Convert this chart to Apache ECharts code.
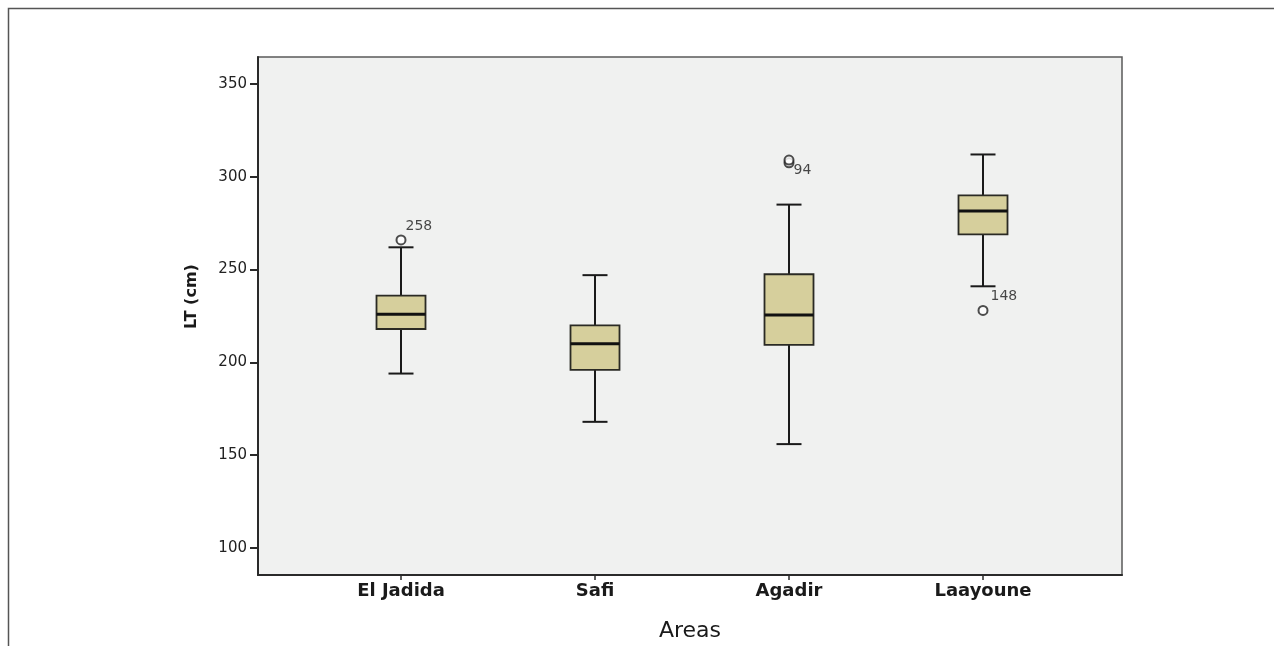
<!DOCTYPE html>
<html>
<head>
<meta charset="utf-8">
<script src="https://cdn.jsdelivr.net/npm/echarts@6/dist/echarts.min.js"></script>
<style>
  html, body { margin: 0; padding: 0; background: #ffffff; }
  #chart { width: 1274px; height: 646px; }
</style>
</head>
<body>
<div id="chart"></div>
<script>
// Total length (LT, cm) by area
const areas = ['El Jadida', 'Safi', 'Agadir', 'Laayoune'];
// [lower whisker, Q1, median, Q3, upper whisker]
const lowWhisker = [194, 168, 156, 241];
const q1 = [218, 196, 209.5, 269];
const median = [226, 210, 225.5, 281.5];
const q3 = [236, 220, 247.5, 290];
const highWhisker = [262, 247, 285, 312];
// outliers: [area index, value, case id]
const outlierArea = [0, 2, 2, 3];
const outlierValue = [266, 307.5, 309, 228];
const outlierCase = ['258', '94', '', '148'];
const yTicks = [100, 150, 200, 250, 300, 350];

const boxData = areas.map((a, i) => [i, lowWhisker[i], q1[i], median[i], q3[i], highWhisker[i]]);
const outlierData = outlierValue.map((v, k) => ({ value: [outlierArea[k], v], caseId: outlierCase[k] }));

const boxFill = '#d6cf9c';
const ink = '#1a1a1a';
const boxWidth = 49;
const capWidth = 25;

const yMin = 85.5, yMax = 364.5;
const plotTop = 57, plotBottom = 71;
const sans = 'DejaVu Sans, Verdana, sans-serif';

const chart = echarts.init(document.getElementById('chart'), null, { renderer: 'canvas' });

chart.setOption({
  backgroundColor: '#ffffff',
  animation: false,
  textStyle: { fontFamily: sans },
  graphic: [{
    type: 'rect',
    left: 6, top: 6,
    shape: { x: 0, y: 0, width: 1400, height: 800 },
    style: { fill: 'none', stroke: '#555555', lineWidth: 1.5 },
    silent: true
  }],
  grid: [
    {
      // plotting frame
      left: 258, right: 152, top: plotTop, bottom: plotBottom,
      outerBoundsMode: 'none',
      show: true, backgroundColor: '#f0f1f0', borderColor: '#5a5a5a', borderWidth: 1.5
    },
    {
      // area bands
      left: 304, right: 194, top: plotTop, bottom: plotBottom,
      outerBoundsMode: 'none'
    }
  ],
  xAxis: [
    {
      type: 'value', gridIndex: 0, min: 0, max: 1,
      axisLine: { show: true, lineStyle: { color: '#2a2a2a', width: 2 } },
      axisTick: { show: false }, axisLabel: { show: false }, splitLine: { show: false },
      name: 'Areas', nameLocation: 'middle', nameGap: 45,
      nameTextStyle: { fontSize: 22, color: '#1a1a1a', fontFamily: sans }
    },
    {
      type: 'category', gridIndex: 1, data: areas,
      axisLine: { show: false },
      axisTick: { show: true, alignWithLabel: true, length: 5, lineStyle: { color: '#2a2a2a', width: 1.5 } },
      axisLabel: { margin: 7, fontSize: 18, fontWeight: 'bold', color: '#1a1a1a', fontFamily: sans },
      splitLine: { show: false }
    }
  ],
  yAxis: [
    {
      type: 'value', gridIndex: 0, min: yMin, max: yMax,
      axisLine: { show: true, lineStyle: { color: '#2a2a2a', width: 2 } },
      axisTick: { show: true, length: 8, customValues: yTicks, lineStyle: { color: '#2a2a2a', width: 2 } },
      axisLabel: { customValues: yTicks, margin: 11, fontSize: 15, color: '#222222', fontFamily: sans },
      splitLine: { show: false },
      name: 'LT (cm)', nameLocation: 'middle', nameGap: 58, nameRotate: 90,
      nameTextStyle: { fontSize: 16, fontWeight: 'bold', color: '#1a1a1a', fontFamily: sans, padding: [0, 0, 0, 39] }
    },
    {
      type: 'value', gridIndex: 1, min: yMin, max: yMax, show: false
    }
  ],
  series: [
    {
      type: 'custom',
      xAxisIndex: 1, yAxisIndex: 1,
      data: boxData,
      encode: { x: 0, y: [1, 2, 3, 4, 5] },
      renderItem: function (params, api) {
        const i = api.value(0);
        const pLow = api.coord([i, api.value(1)]);
        const pQ1 = api.coord([i, api.value(2)]);
        const pMed = api.coord([i, api.value(3)]);
        const pQ3 = api.coord([i, api.value(4)]);
        const pHigh = api.coord([i, api.value(5)]);
        const cx = pQ1[0];
        const bw = boxWidth, cw = capWidth;
        const lineStyle = { stroke: ink, lineWidth: 2 };
        return {
          type: 'group',
          children: [
            { type: 'line', shape: { x1: cx, y1: pHigh[1], x2: cx, y2: pQ3[1] }, style: lineStyle },
            { type: 'line', shape: { x1: cx, y1: pLow[1], x2: cx, y2: pQ1[1] }, style: lineStyle },
            { type: 'line', shape: { x1: cx - cw / 2, y1: pHigh[1], x2: cx + cw / 2, y2: pHigh[1] }, style: lineStyle },
            { type: 'line', shape: { x1: cx - cw / 2, y1: pLow[1], x2: cx + cw / 2, y2: pLow[1] }, style: lineStyle },
            {
              type: 'rect',
              shape: { x: cx - bw / 2, y: pQ3[1], width: bw, height: pQ1[1] - pQ3[1] },
              style: { fill: boxFill, stroke: '#2a2a24', lineWidth: 1.8 }
            },
            { type: 'line', shape: { x1: cx - bw / 2, y1: pMed[1], x2: cx + bw / 2, y2: pMed[1] }, style: { stroke: '#111111', lineWidth: 3 } }
          ]
        };
      },
      z: 2
    },
    {
      type: 'scatter',
      xAxisIndex: 1, yAxisIndex: 1,
      data: outlierData,
      symbol: 'emptyCircle', symbolSize: 9,
      itemStyle: { color: '#222222', borderColor: '#222222', borderWidth: 1.5 },
      label: {
        show: true,
        formatter: function (p) { return p.data.caseId; },
        position: 'right',
        fontSize: 14, color: '#1a1a1a', fontFamily: sans
      },
      labelLayout: function (p) {
        const id = outlierData[p.dataIndex].caseId;
        if (id === '94') return { dx: -6, dy: 8 };
        if (id === '') return {};
        if (id === '148') return { dx: -3, dy: -14 };
        return { dx: -6, dy: -14 };
      },
      z: 3
    }
  ]
});
</script>
</body>
</html>
